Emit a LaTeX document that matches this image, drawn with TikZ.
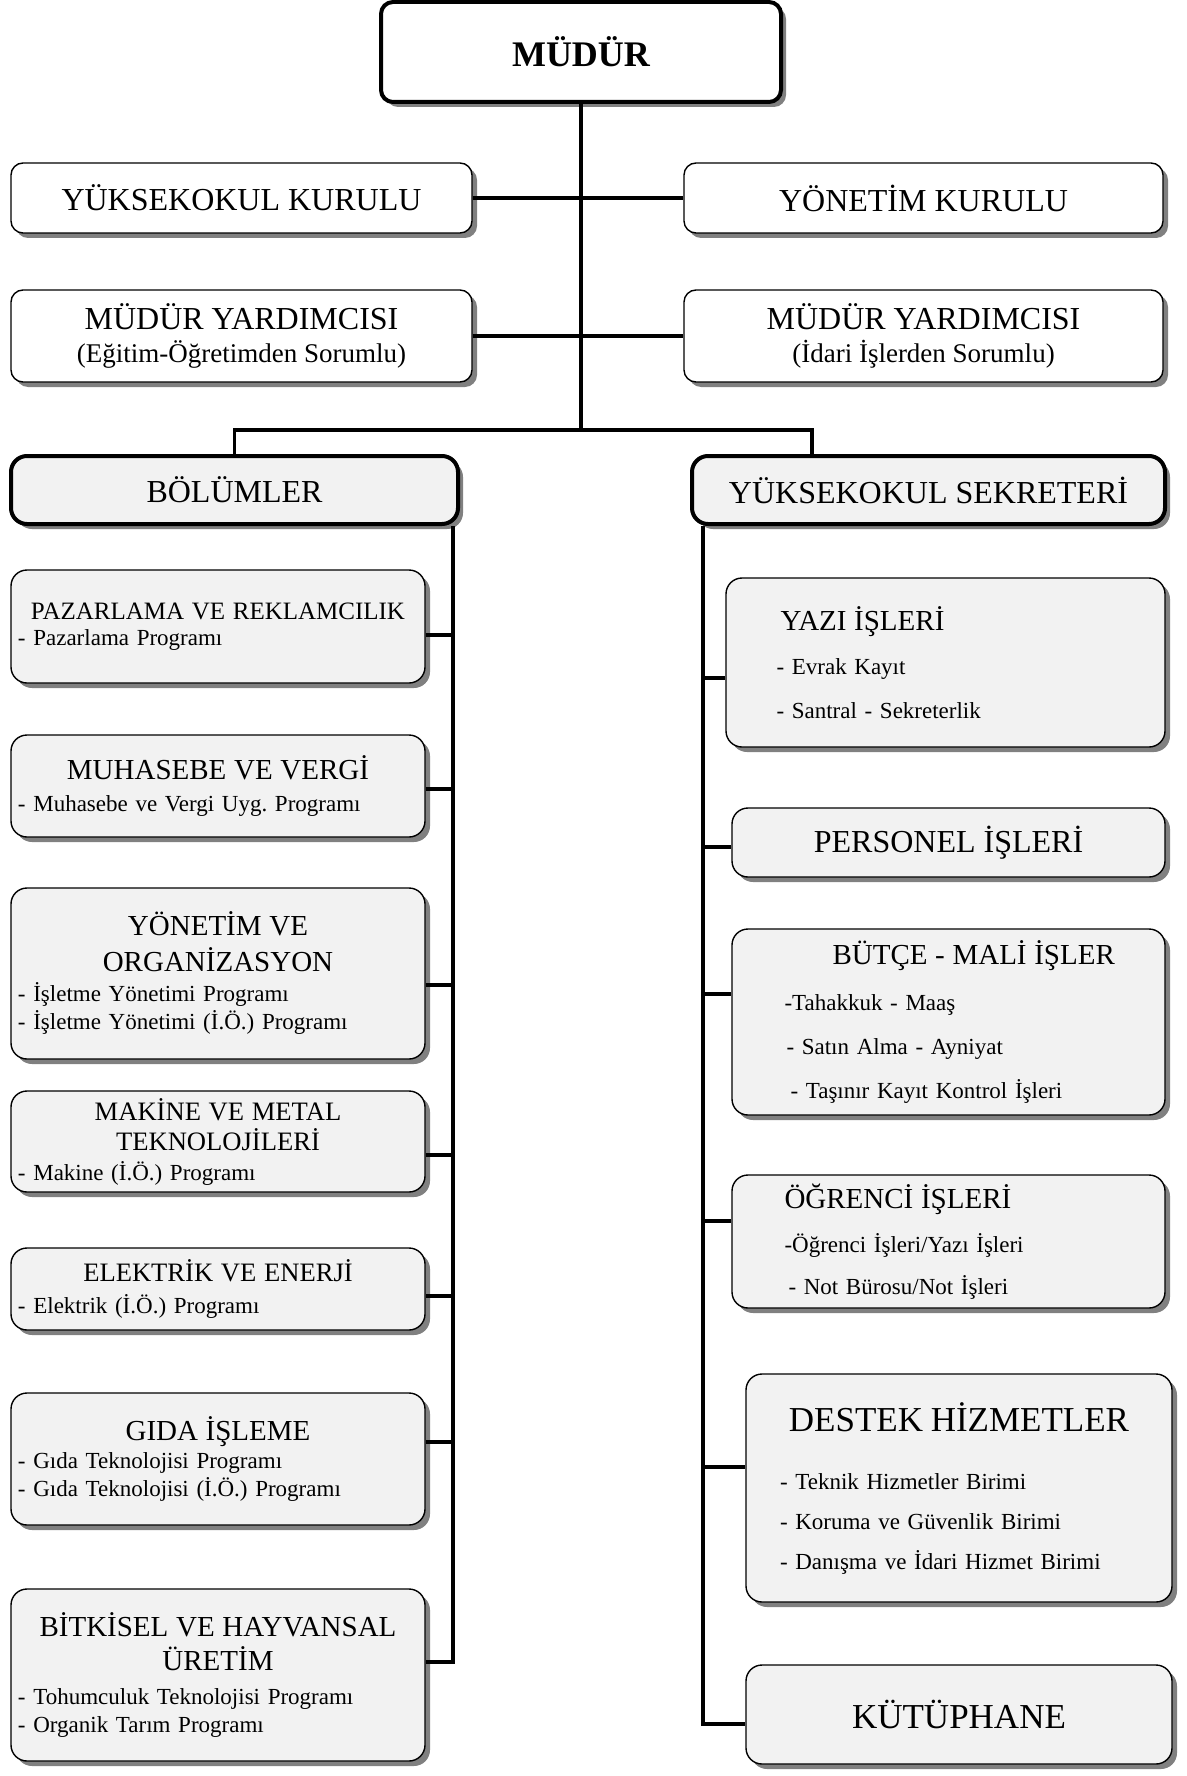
\documentclass[tikz,border=0pt]{standalone}
\usepackage{fontspec}
\setmainfont{Liberation Serif}
\usetikzlibrary{shadows}
\frenchspacing

\newcommand{\titlefont}{\fontsize{16}{19}\selectfont}
\newcommand{\headfont}{\fontsize{14.5}{18}\selectfont}
\newcommand{\itemfont}{\fontsize{11.5}{14}\selectfont}
\newcommand{\boxhead}[1]{\makebox[\linewidth][c]{\headfont #1}}

\begin{document}
\begin{tikzpicture}[x=0.5pt, y=-0.5pt,
    box/.style={draw, rounded corners=6pt, line width=0.7pt, fill=white, inner sep=3pt,
      drop shadow={shadow xshift=2.5pt, shadow yshift=-2.5pt, fill=black!50, opacity=1}},
    boldbox/.style={line width=2pt},
    dotbox/.style={box, rounded corners=8pt, fill=black!5},
    conn/.style={line width=1.8pt},
    boxsize/.style 2 args={minimum width=#1*0.5pt, minimum height=#2*0.5pt}]
  \useasboundingbox (0,0) rectangle (1187,1776);
  %
  \node[box, boldbox, boxsize={400}{100}, font=\fontsize{18}{21}\selectfont\bfseries] (mudur) at (581,52) {MÜDÜR};
  %
  \node[box, boxsize={461}{70}, font=\titlefont] (ykurul) at (241.5,198) {YÜKSEKOKUL KURULU};     % councils
  \node[box, boxsize={479}{70}, font=\titlefont] (yonkurul) at (923.5,198) {YÖNETİM KURULU};
  %
  \node[box, boxsize={461}{92}, align=center, font=\fontsize{13.5}{16.5}\selectfont] (yardl) at (241.5,336)
    {{\titlefont MÜDÜR YARDIMCISI}\\(Eğitim-Öğretimden Sorumlu)};                                  % deputies
  \node[box, boxsize={479}{92}, align=center, font=\fontsize{13.5}{16.5}\selectfont] (yardr) at (923.5,336)
    {{\titlefont MÜDÜR YARDIMCISI}\\(İdari İşlerden Sorumlu)};
  %
  \node[dotbox, boldbox, boxsize={447}{68}, font=\titlefont] (bolum) at (234.5,490) {BÖLÜMLER};
  \node[dotbox, boldbox, boxsize={473}{68}, font=\titlefont] (sekr) at (928.5,490) {YÜKSEKOKUL SEKRETERİ};
  %
  % left column
  \node[dotbox, boxsize={414}{113}, text width=200pt, align=left, font=\itemfont] (pazar) at (218,626.5)
    {\boxhead{\fontsize{12.5}{14}\selectfont PAZARLAMA VE REKLAMCILIK}\\[-1pt]- Pazarlama Programı};
  \node[dotbox, boxsize={414}{102}, text width=200pt, align=left, font=\itemfont] (muhas) at (218,786)
    {\boxhead{MUHASEBE VE VERGİ}\\[2pt]- Muhasebe ve Vergi Uyg. Programı};
  \node[dotbox, boxsize={414}{171}, text width=200pt, align=left, font=\itemfont] (yonorg) at (218,973.5)
    {\boxhead{YÖNETİM VE}\\[4pt]\boxhead{ORGANİZASYON}\\[1pt]- İşletme Yönetimi Programı\\- İşletme Yönetimi (İ.Ö.) Programı};
  \node[dotbox, boxsize={414}{101}, text width=200pt, align=left, font=\itemfont] (makine) at (218,1141.5)
    {\boxhead{\fontsize{13.3}{15}\selectfont MAKİNE VE METAL}\\[1pt]\boxhead{\fontsize{13.3}{15}\selectfont TEKNOLOJİLERİ}\\[1pt]- Makine (İ.Ö.) Programı};
  \node[dotbox, boxsize={414}{82}, text width=200pt, align=left, font=\itemfont] (elek) at (218,1289)
    {\boxhead{\fontsize{13.3}{15}\selectfont ELEKTRİK VE ENERJİ}\\[2pt]- Elektrik (İ.Ö.) Programı};
  \node[dotbox, boxsize={414}{132}, text width=200pt, align=left, font=\itemfont] (gida) at (218,1459)
    {\boxhead{GIDA İŞLEME}\\- Gıda Teknolojisi Programı\\- Gıda Teknolojisi (İ.Ö.) Programı};
  \node[dotbox, boxsize={414}{172}, text width=200pt, align=left, font=\itemfont] (bitki) at (218,1675)
    {\boxhead{BİTKİSEL VE HAYVANSAL}\\[3pt]\boxhead{ÜRETİM}\\[3pt]- Tohumculuk Teknolojisi Programı\\- Organik Tarım Programı};
  %
  % right column
  \node[dotbox, boxsize={439}{169}, text width=213pt, align=left, font=\itemfont] (yazi) at (945.5,662.5)
    {\hspace*{24pt}{\headfont YAZI İŞLERİ}\\[8pt]\hspace*{22pt}- Evrak Kayıt\\[8pt]\hspace*{22pt}- Santral - Sekreterlik};
  \node[dotbox, boxsize={433}{69}, font=\titlefont] (pers) at (948.5,842.5) {PERSONEL İŞLERİ};
  \node[dotbox, boxsize={433}{186}, text width=210pt, align=left, font=\itemfont] (butce) at (948.5,1022)
    {\hspace*{47pt}{\headfont BÜTÇE - MALİ İŞLER}\\[9pt]\hspace*{23pt}-Tahakkuk - Maaş\\[8pt]\hspace*{24pt}- Satın Alma - Ayniyat\\[8pt]\hspace*{26pt}- Taşınır Kayıt Kontrol İşleri};
  \node[dotbox, boxsize={433}{133}, text width=210pt, align=left, font=\itemfont] (ogr) at (948.5,1241.5)
    {\hspace*{23pt}{\headfont ÖĞRENCİ İŞLERİ}\\[8pt]\hspace*{23pt}-Öğrenci İşleri/Yazı İşleri\\[7pt]\hspace*{25pt}- Not Bürosu/Not İşleri};
  \node[dotbox, boxsize={426}{228}, text width=207pt, align=left, font=\itemfont] (destek) at (959,1488)
    {\boxhead{\fontsize{17.5}{20}\selectfont DESTEK HİZMETLER}\\[15pt]\hspace*{14pt}- Teknik Hizmetler Birimi\\[6pt]\hspace*{14pt}- Koruma ve Güvenlik Birimi\\[6pt]\hspace*{14pt}- Danışma ve İdari Hizmet Birimi};
  \node[dotbox, boxsize={426}{99}, font=\fontsize{17.5}{20}\selectfont] (kutup) at (959,1714.5) {KÜTÜPHANE};
  %
  % connectors
  \coordinate (barR) at (812,430);
  \draw[conn] (mudur.south) -- (mudur.south |- barR);
  \draw[conn] (ykurul.east) -- (yonkurul.west);
  \draw[conn] (yardl.east) -- (yardr.west);
  \draw[conn] (bolum.north) |- (barR) -- (barR |- sekr.north);
  %
  \coordinate (l1) at (453,635);   % left bus
  \coordinate (l2) at (453,789);
  \coordinate (l3) at (453,985);
  \coordinate (l4) at (453,1155);
  \coordinate (l5) at (453,1296);
  \coordinate (l6) at (453,1442);
  \coordinate (lbus) at (453,1662);
  \draw[conn] (bolum.south -| lbus) -- (lbus) -- (bitki.east |- lbus);
  \draw[conn] (pazar.east |- l1) -- (l1);
  \draw[conn] (muhas.east |- l2) -- (l2);
  \draw[conn] (yonorg.east |- l3) -- (l3);
  \draw[conn] (makine.east |- l4) -- (l4);
  \draw[conn] (elek.east |- l5) -- (l5);
  \draw[conn] (gida.east |- l6) -- (l6);
  %
  \coordinate (r1) at (703,678);   % right bus
  \coordinate (r2) at (703,847);
  \coordinate (r3) at (703,994);
  \coordinate (r4) at (703,1221);
  \coordinate (r5) at (703,1467);
  \coordinate (rbus) at (703,1724);
  \draw[conn] (sekr.south -| rbus) -- (rbus) -- (kutup.west |- rbus);
  \draw[conn] (r1) -- (r1 -| yazi.west);
  \draw[conn] (r2) -- (r2 -| pers.west);
  \draw[conn] (r3) -- (r3 -| butce.west);
  \draw[conn] (r4) -- (r4 -| ogr.west);
  \draw[conn] (r5) -- (r5 -| destek.west);
  %
\end{tikzpicture}
\end{document}
